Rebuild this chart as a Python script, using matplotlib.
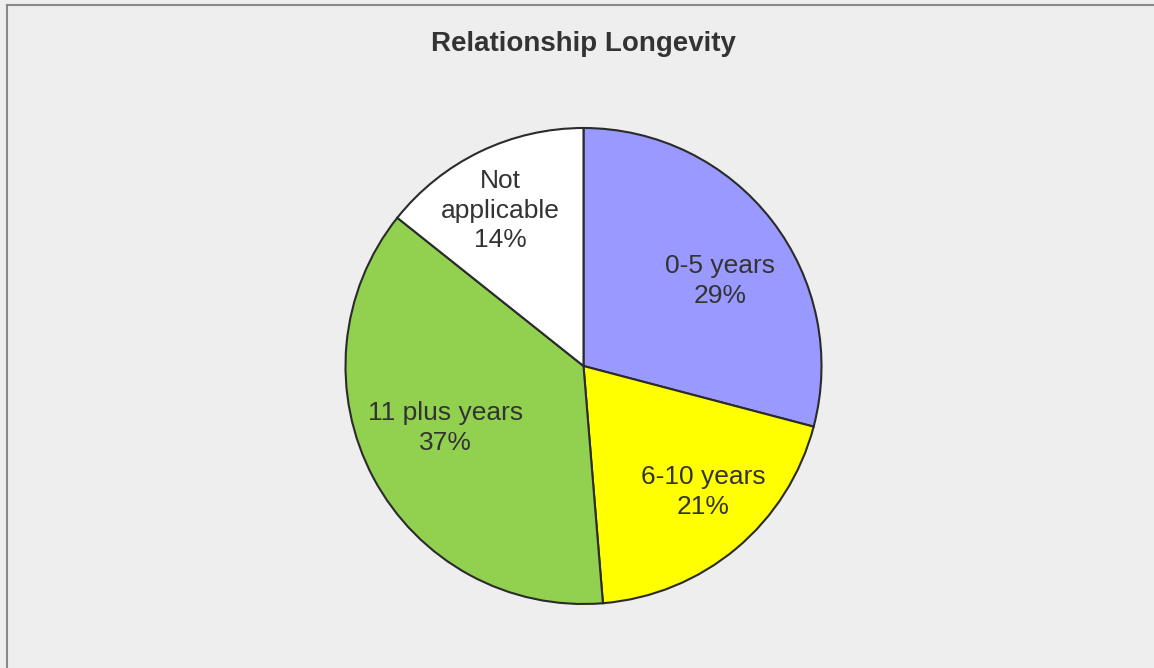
import numpy as np
import matplotlib
matplotlib.use("Agg")
import matplotlib.pyplot as plt

categories = ["0-5 years", "6-10 years", "11 plus years", "Not\napplicable"]
shares = [29.1, 19.6, 37.0, 14.3]
pct_labels = ["29%", "21%", "37%", "14%"]
colors = ["#9999FF", "#FFFF00", "#92D050", "#FFFFFF"]

W, H = 1154, 668
plt.rcParams['font.family'] = ['Liberation Sans', 'DejaVu Sans']
fig = plt.figure(figsize=(W / 100, H / 100), dpi=100, facecolor="#EEEEEE")
ax = fig.add_axes([0, 0, 1, 1])
ax.set_facecolor("#EEEEEE")

cx, cy, r = 583.5, 302.0, 238.0
wedges, _ = ax.pie(shares, colors=colors, startangle=90, counterclock=False,
                   center=(cx, cy), radius=r,
                   wedgeprops=dict(edgecolor="#2b2b2b", linewidth=1.5))

# label placement (fraction of radius, angular nudge in degrees)
lab_dist = [0.676, 0.73, 0.634, 0.74]
lab_shift = [-5.7, 3.5, -3.9, 2.4]
for w, name, pct, d, s in zip(wedges, categories, pct_labels, lab_dist, lab_shift):
    a = np.deg2rad((w.theta1 + w.theta2) / 2 + s)
    ax.text(cx + d * r * np.cos(a), cy + d * r * np.sin(a), name + "\n" + pct,
            ha="center", va="center", fontsize=19, color="#333333",
            linespacing=1.3)

ax.text(583.5, H - 51, "Relationship Longevity", ha="center", va="baseline",
        fontsize=20, fontweight="bold", color="#333333")

# chart area border (only top and left visible)
ax.plot([6.5, 6.5], [-5, H - 5], color="#888888", lw=1.5, clip_on=False)
ax.plot([6.5, W + 5], [H - 5, H - 5], color="#888888", lw=1.5, clip_on=False)

ax.set_xlim(0, W)
ax.set_ylim(0, H)
ax.set_aspect("auto")
ax.axis("off")
fig.savefig("out.png", dpi=100, facecolor="#EEEEEE")
